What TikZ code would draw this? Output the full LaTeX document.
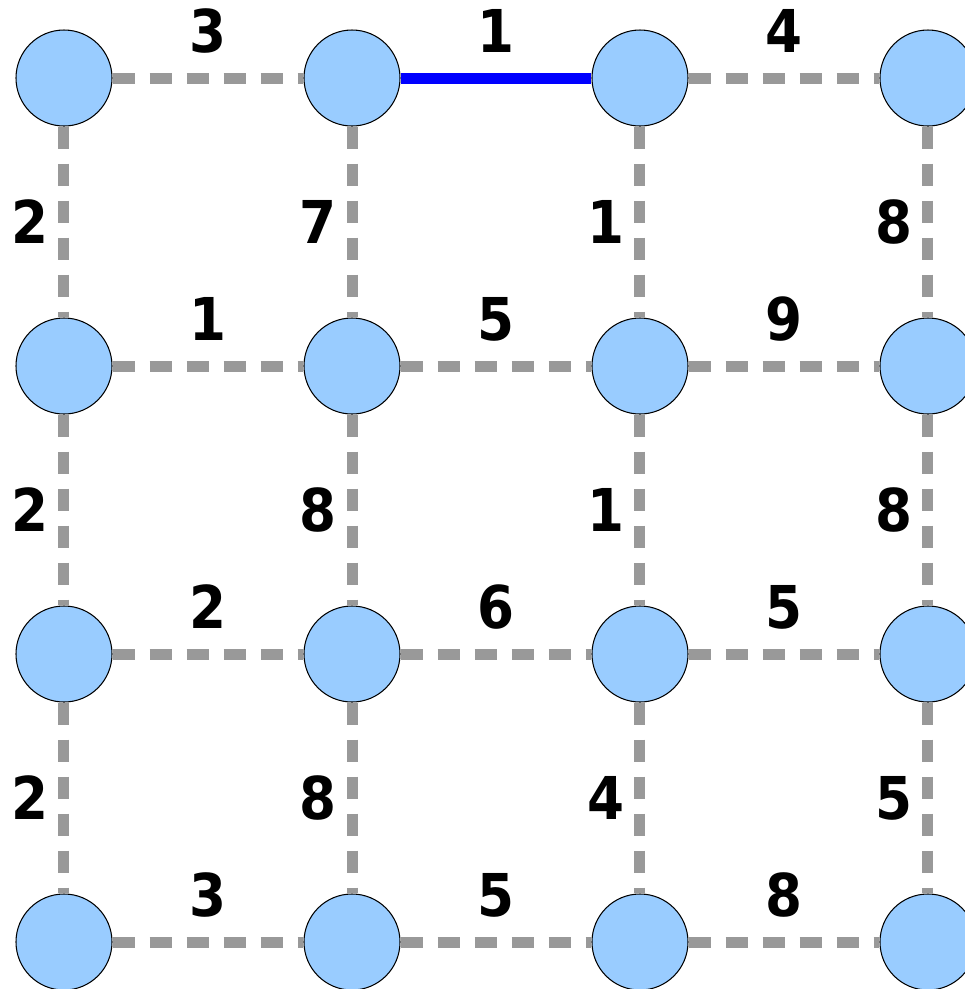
\documentclass[tikz,border=0pt]{standalone}
\usepackage{fontspec}
\setmainfont{DejaVu Sans Condensed}
\usepackage{tikz}
\usetikzlibrary{positioning}
\definecolor{nodeblue}{HTML}{99CCFF}
\definecolor{edgegray}{HTML}{999999}
\colorlet{pathblue}{blue}

\begin{document}
\begin{tikzpicture}[
    vert/.style={circle, draw=black, line width=0.3pt, fill=nodeblue, minimum size=0.96cm, inner sep=0pt},
    edge/.style={draw=edgegray, line width=0.11cm, dash pattern=on 0.225cm off 0.145cm},
    picked/.style={draw=pathblue, line width=0.11cm},
    wlab/.style={text=black, font=\fontsize{16.8}{20}\selectfont\bfseries, inner sep=0pt},
    hlab/.style={wlab, yshift=0.47cm},
    vlab/.style={wlab, xshift=-0.34cm}
  ]
    \useasboundingbox (0,0) rectangle (9.65,-9.89);
    % grid nodes
    \node[vert] (v11) at (0.64,-0.78) {};
    \node[vert] (v12) at (3.52,-0.78) {};
    \node[vert] (v13) at (6.40,-0.78) {};
    \node[vert] (v14) at (9.28,-0.78) {};
    \node[vert] (v21) at (0.64,-3.66) {};
    \node[vert] (v22) at (3.52,-3.66) {};
    \node[vert] (v23) at (6.40,-3.66) {};
    \node[vert] (v24) at (9.28,-3.66) {};
    \node[vert] (v31) at (0.64,-6.54) {};
    \node[vert] (v32) at (3.52,-6.54) {};
    \node[vert] (v33) at (6.40,-6.54) {};
    \node[vert] (v34) at (9.28,-6.54) {};
    \node[vert] (v41) at (0.64,-9.42) {};
    \node[vert] (v42) at (3.52,-9.42) {};
    \node[vert] (v43) at (6.40,-9.42) {};
    \node[vert] (v44) at (9.28,-9.42) {};
    % horizontal edges
    \draw[edge] (v11) -- node[hlab] {3} (v12);
    \draw[picked] (v12) -- node[hlab] {1} (v13);
    \draw[edge] (v13) -- node[hlab] {4} (v14);
    \draw[edge] (v21) -- node[hlab] {1} (v22);
    \draw[edge] (v22) -- node[hlab] {5} (v23);
    \draw[edge] (v23) -- node[hlab] {9} (v24);
    \draw[edge] (v31) -- node[hlab] {2} (v32);
    \draw[edge] (v32) -- node[hlab] {6} (v33);
    \draw[edge] (v33) -- node[hlab] {5} (v34);
    \draw[edge] (v41) -- node[hlab] {3} (v42);
    \draw[edge] (v42) -- node[hlab] {5} (v43);
    \draw[edge] (v43) -- node[hlab] {8} (v44);
    % vertical edges
    \draw[edge] (v11) -- node[vlab] {2} (v21);
    \draw[edge] (v12) -- node[vlab] {7} (v22);
    \draw[edge] (v13) -- node[vlab] {1} (v23);
    \draw[edge] (v14) -- node[vlab] {8} (v24);
    \draw[edge] (v21) -- node[vlab] {2} (v31);
    \draw[edge] (v22) -- node[vlab] {8} (v32);
    \draw[edge] (v23) -- node[vlab] {1} (v33);
    \draw[edge] (v24) -- node[vlab] {8} (v34);
    \draw[edge] (v31) -- node[vlab] {2} (v41);
    \draw[edge] (v32) -- node[vlab] {8} (v42);
    \draw[edge] (v33) -- node[vlab] {4} (v43);
    \draw[edge] (v34) -- node[vlab] {5} (v44);
  \end{tikzpicture}
\end{document}
